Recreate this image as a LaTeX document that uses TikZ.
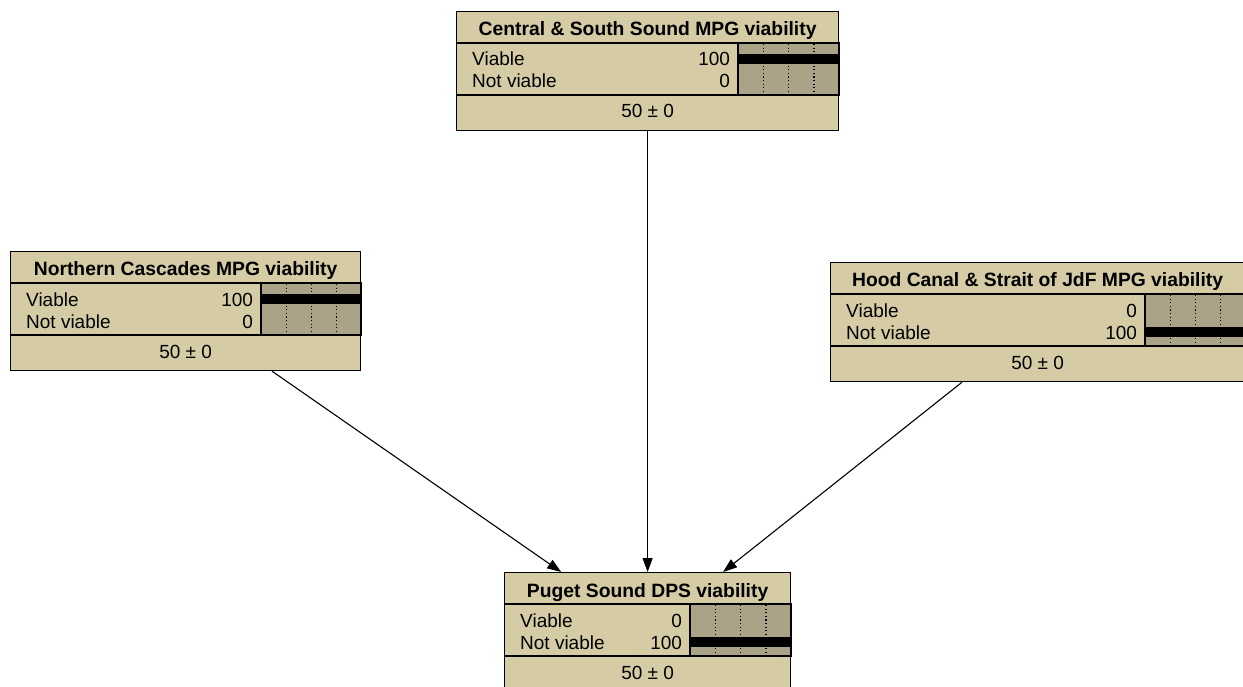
\documentclass[tikz,border=0pt]{standalone}
\usepackage{fontspec}
\setmainfont{Liberation Sans}
\usetikzlibrary{arrows.meta,calc}

\definecolor{nodetan}{RGB}{213,204,166}
\definecolor{bartan}{RGB}{170,163,136}

% belief node: name, left, top, width, bar width, title, viable, not viable
\newcommand{\beliefnode}[8]{%
  \node[bnbox, minimum width=#4, minimum height=119, anchor=north west] (#1) at (#2,#3) {};
  \node[bntitle, anchor=base] (#1-title) at ($(#1.north)+(0,25)$) {#6};
  \draw[bnline] ($(#1.north west)+(0,32)$) -- ($(#1.north east)+(0,32)$);
  \draw[bnline] ($(#1.north west)+(0,84)$) -- ($(#1.north east)+(0,84)$);
  \fill[bartan] ($(#1.north east)+(-#5,32)$) rectangle ($(#1.north east)+(0,84)$);
  \foreach \q in {0.25,0.5,0.75}
    \draw[bndots] ($(#1.north east)+(-#5+#5*\q,33)$) -- ($(#1.north east)+(-#5+#5*\q,83)$);
  \ifnum#7>0 \fill ($(#1.north east)+(-#5,43)$) rectangle ($(#1.north east)+(-#5+#5*#7/100,53)$);\fi
  \ifnum#8>0 \fill ($(#1.north east)+(-#5,65)$) rectangle ($(#1.north east)+(-#5+#5*#8/100,75)$);\fi
  \draw[bnframe] ($(#1.north east)+(-#5,32)$) rectangle ($(#1.north east)+(0,84)$);
  \node[bntext, anchor=base west] (#1-s1) at ($(#1.north west)+(16,55)$) {Viable};
  \node[bntext, anchor=base west] (#1-s2) at ($(#1.north west)+(16,77)$) {Not viable};
  \node[bntext, anchor=base east] (#1-v1) at ($(#1.north east)+(-#5-8,55)$) {#7};
  \node[bntext, anchor=base east] (#1-v2) at ($(#1.north east)+(-#5-8,77)$) {#8};
  \node[bntext, anchor=base] (#1-mean) at ($(#1.north)+(0,107)$) {50 ± 0};
}

\begin{document}
\begin{tikzpicture}[
  x=1pt, y=-1pt,
  bnbox/.style={draw, fill=nodetan, line width=1.2pt, inner sep=0pt},
  bnline/.style={line width=1.2pt},
  bnframe/.style={line width=1.6pt},
  bndots/.style={line width=1.2pt, dash pattern=on 1.2pt off 2.4pt},
  bntitle/.style={inner sep=0pt, font=\fontsize{19.3}{22}\selectfont\bfseries},
  bntext/.style={inner sep=0pt, font=\fontsize{19}{22}\selectfont},
  arr/.style={-{Triangle[length=14pt, width=10pt]}, line width=1.1pt},
]
  \useasboundingbox (0,0) rectangle (1243,687);

  \beliefnode{CS}{456}{11}{382}{101}{Central \& South Sound MPG viability}{100}{0}
  \beliefnode{NC}{10}{251}{350}{100}{Northern Cascades MPG viability}{100}{0}
  \beliefnode{HC}{830}{262}{414}{100}{Hood Canal \& Strait of JdF MPG viability}{0}{100}
  \beliefnode{PS}{504}{572}{286}{101}{Puget Sound DPS viability}{0}{100}

  \draw[arr] (CS) -- (PS);
  \draw[arr] (NC) -- (PS);
  \draw[arr] (HC) -- (PS);
\end{tikzpicture}
\end{document}
